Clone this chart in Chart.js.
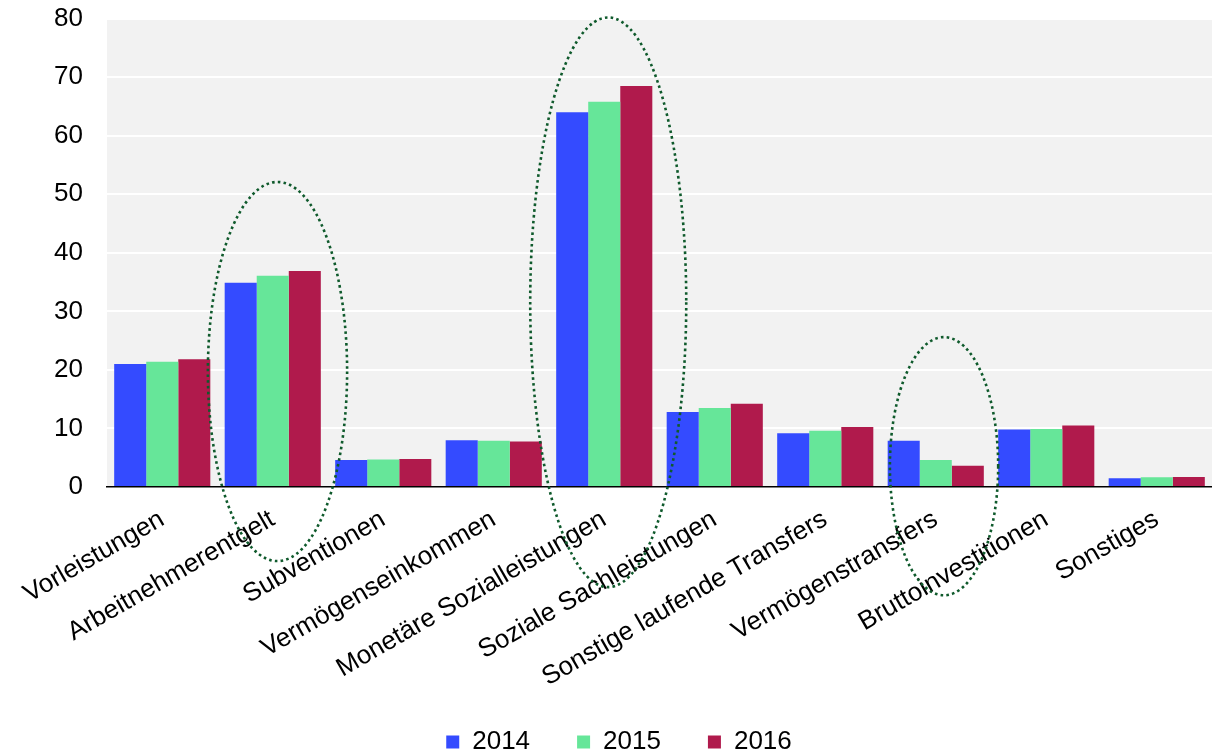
<!DOCTYPE html>
<html>
<head>
<meta charset="utf-8">
<script src="https://cdn.jsdelivr.net/npm/chart.js@4/dist/chart.umd.min.js"></script>
<style>
  html, body { margin: 0; padding: 0; background: #ffffff; }
  #wrap { width: 1212px; height: 753px; position: relative; }
</style>
</head>
<body>
<div id="wrap"><canvas id="c"></canvas></div>
<script>
const categories = [
  'Vorleistungen', 'Arbeitnehmerentgelt', 'Subventionen', 'Vermögenseinkommen',
  'Monetäre Sozialleistungen', 'Soziale Sachleistungen', 'Sonstige laufende Transfers',
  'Vermögenstransfers', 'Bruttoinvestitionen', 'Sonstiges'
];
const years = ['2014', '2015', '2016'];
const values2014 = [21.0, 34.9, 4.6, 8.0, 64.0, 12.8, 9.2, 7.9, 9.8, 1.5];
const values2015 = [21.4, 36.1, 4.7, 7.9, 65.8, 13.5, 9.6, 4.6, 9.9, 1.65];
const values2016 = [21.8, 36.9, 4.8, 7.75, 68.5, 14.2, 10.25, 3.65, 10.5, 1.7];
const yMin = 0, yMax = 80, yStep = 10;

// highlighted categories (dotted ellipses), in category index / value units
const highlightCats = [1, 4, 7];
const highlightTop = [52.1, 80.2, 25.6];
const highlightBottom = [-12.65, -17.1, -18.5];
const highlightShift = [0.043, 0.036, 0.075];
const highlightHalfWidth = [0.63, 0.706, 0.49];

const colors = ['#344bff', '#66e699', '#b01a4c'];
const FONT = '"Liberation Sans", Arial, Helvetica, sans-serif';
const FS = 26;

const plotBg = {
  id: 'plotBg',
  beforeDraw(chart) {
    const a = chart.chartArea, ctx = chart.ctx;
    ctx.save();
    ctx.fillStyle = '#f2f2f2';
    ctx.fillRect(a.left, a.top, a.right - a.left, a.bottom - a.top);
    ctx.restore();
  }
};

// raise the legend a little so it sits closer to the rotated axis labels
const legendLift = {
  id: 'legendLift',
  afterLayout(chart) {
    const lg = chart.legend;
    if (lg) { lg.top -= 10; }
  }
};

const ellipses = {
  id: 'ellipses',
  afterDraw(chart) {
    const x = chart.scales.x, y = chart.scales.y, ctx = chart.ctx;
    ctx.save();
    ctx.strokeStyle = '#0f5a2c';
    ctx.lineWidth = 2.6;
    ctx.setLineDash([2.6, 3.2]);
    ctx.lineCap = 'butt';
    highlightCats.forEach((cat, i) => {
      const cx = x.getPixelForValue(cat + highlightShift[i]);
      const left = x.getPixelForValue(cat + highlightShift[i] - highlightHalfWidth[i]);
      const rx = cx - left;
      const top = y.getPixelForValue(highlightTop[i]);
      const bottom = y.getPixelForValue(highlightBottom[i]);
      const cy = (top + bottom) / 2, ry = (bottom - top) / 2;
      ctx.beginPath();
      ctx.ellipse(cx, cy, rx, ry, 0, 0, Math.PI * 2);
      ctx.stroke();
    });
    ctx.restore();
  }
};

const seriesValues = [values2014, values2015, values2016];

new Chart(document.getElementById('c'), {
  type: 'bar',
  data: {
    labels: categories,
    datasets: years.map((yr, i) => ({
      label: yr,
      data: seriesValues[i],
      backgroundColor: colors[i],
      borderWidth: 0,
      categoryPercentage: 0.87,
      barPercentage: 1.0
    }))
  },
  options: {
    responsive: true,
    maintainAspectRatio: false,
    animation: false,
    layout: { padding: { left: 26, right: 0, top: 0, bottom: 0 } },
    plugins: {
      tooltip: { enabled: false },
      legend: {
        position: 'bottom',
        maxHeight: 61,
        labels: {
          boxWidth: 13,
          boxHeight: 13,
          padding: 47,
          color: '#000000',
          font: { family: FONT, size: FS }
        }
      }
    },
    scales: {
      x: {
        afterFit(scale) { scale.height = 205; },
        grid: { display: false, drawTicks: false },
        border: { display: true, color: '#000000', width: 1.5 },
        ticks: {
          minRotation: 30,
          maxRotation: 30,
          autoSkip: false,
          padding: 17,
          color: '#000000',
          font: { family: FONT, size: FS }
        }
      },
      y: {
        min: yMin,
        max: yMax,
        afterFit(scale) { scale.width = 81; },
        grid: { color: '#ffffff', lineWidth: 2, drawTicks: true, tickLength: 21, tickColor: 'rgba(0,0,0,0)' },
        border: { display: false },
        ticks: {
          stepSize: yStep,
          padding: 3,
          color: '#000000',
          font: { family: FONT, size: FS }
        }
      }
    }
  },
  plugins: [plotBg, legendLift, ellipses]
});
</script>
</body>
</html>
